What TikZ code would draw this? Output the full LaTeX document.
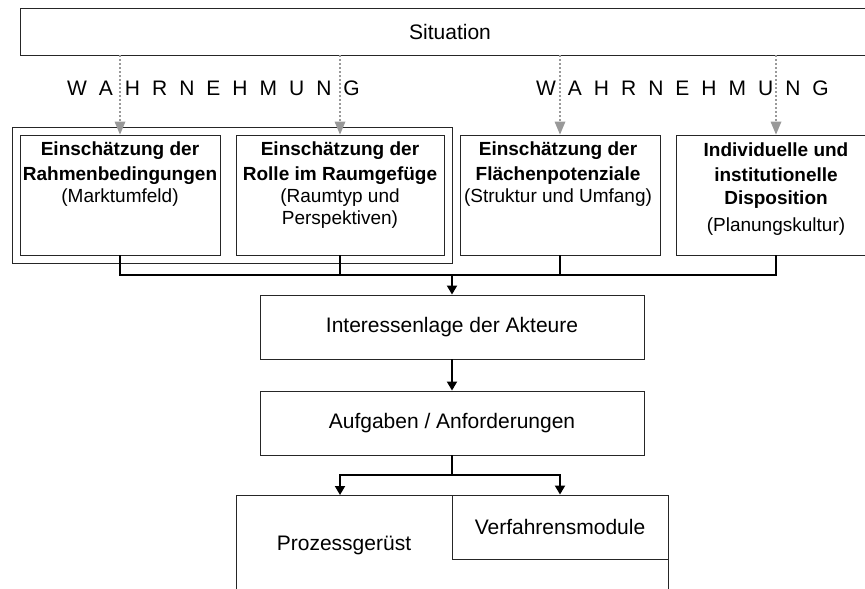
\documentclass[tikz,border=0pt]{standalone}
\usepackage{fontspec}
\setmainfont{Liberation Sans}
\usetikzlibrary{arrows.meta}
\newcommand\wgap{\hspace{12pt}}
\newcommand\hd[1]{{\fontsize{19}{22}\selectfont\bfseries #1}}
\begin{document}
\begin{tikzpicture}[x=1pt,y=-1pt,
  frame/.style={draw=black!85,line width=0.9pt,rectangle,inner sep=0pt},
  bigtext/.style={font=\fontsize{21}{24}\selectfont},
  boxtext/.style={anchor=base,inner sep=0pt,font=\fontsize{19}{22}\selectfont},
  link/.style={line width=1.8pt,black},
  arr/.style={link,-{Triangle[length=9pt,width=10pt]}},
  perc/.style={line width=1.8pt,draw=black!40,dash pattern=on 2pt off 2pt,
    -{Triangle[length=13pt,width=11pt,fill=black!40,line width=0pt]}},
]
\useasboundingbox (0,0) rectangle (865,589);
\clip (0,0) rectangle (865,589);

% situation bar (runs past the right edge)
\node[frame,bigtext,minimum width=860,minimum height=47] (sit) at (450,31.5) {Situation};

% perception layer
\node[anchor=base,inner sep=0pt,font=\fontsize{21}{24}\selectfont] (w1) at (213.5,95)
  {W\wgap A\wgap H\wgap R\wgap N\wgap E\wgap H\wgap M\wgap U\wgap N\wgap G};
\node[anchor=base,inner sep=0pt,font=\fontsize{21}{24}\selectfont] (w2) at (682.5,95)
  {W\wgap A\wgap H\wgap R\wgap N\wgap E\wgap H\wgap M\wgap U\wgap N\wgap G};

% assessment boxes
\node[frame,minimum width=440,minimum height=136] (grp) at (232,195) {};
\node[frame,minimum width=200,minimum height=120] (b1) at (120,195) {};
\node[frame,minimum width=208,minimum height=120] (b2) at (340,195) {};
\node[frame,minimum width=200,minimum height=120] (b3) at (560,195) {};
\node[frame,minimum width=200,minimum height=120] (b4) at (776,195) {};

\node[boxtext] (t1) at (120,155) {\begin{tabular}[t]{@{}c@{}}
  \hd{Einschätzung der}\\[3pt]\hd{Rahmenbedingungen}\\(Marktumfeld)\end{tabular}};
\node[boxtext] (t2) at (340,155) {\begin{tabular}[t]{@{}c@{}}
  \hd{Einschätzung der}\\[3pt]\hd{Rolle im Raumgefüge}\\(Raumtyp und\\Perspektiven)\end{tabular}};
\node[boxtext] (t3) at (558,155) {\begin{tabular}[t]{@{}c@{}}
  \hd{Einschätzung der}\\[3pt]\hd{Flächenpotenziale}\\(Struktur und Umfang)\end{tabular}};
\node[boxtext] (t4) at (776,156) {\begin{tabular}[t]{@{}c@{}}
  \hd{Individuelle und}\\[3pt]\hd{institutionelle}\\[1pt]\hd{Disposition}\\[5pt](Planungskultur)\end{tabular}};

% lower chain
\node[frame,bigtext,minimum width=384,minimum height=64] (int) at (452,327) {Interessenlage der Akteure};
\node[frame,bigtext,minimum width=384,minimum height=64] (auf) at (452,423) {Aufgaben / Anforderungen};
\node[frame,minimum width=432,minimum height=125] (proz) at (452,557.5) {};
\node[inner sep=0pt,bigtext] (pt) at (344,545) {Prozessgerüst};
\node[frame,bigtext,minimum width=216,minimum height=64] (verf) at (560,527) {Verfahrensmodule};

% perception arrows
\foreach \b in {b1,b2,b3,b4}
  \draw[perc] (\b.north |- sit.south) -- (\b.north);

% collecting bus
\coordinate (bus) at (452,275);
\draw[link] (b1.south) |- (b4.south |- bus) -- (b4.south);
\draw[link] (b2.south) -- (b2.south |- bus);
\draw[link] (b3.south) -- (b3.south |- bus);
\draw[arr] (bus) -- (int.north);
\draw[arr] (int.south) -- (auf.north);

% split to the process parts
\coordinate (split) at (452,475);
\coordinate (pin) at (340,495);
\draw[link] (auf.south) -- (split);
\draw[arr] (split) -| (pin);
\draw[arr] (split) -| (verf.north);
\end{tikzpicture}
\end{document}
